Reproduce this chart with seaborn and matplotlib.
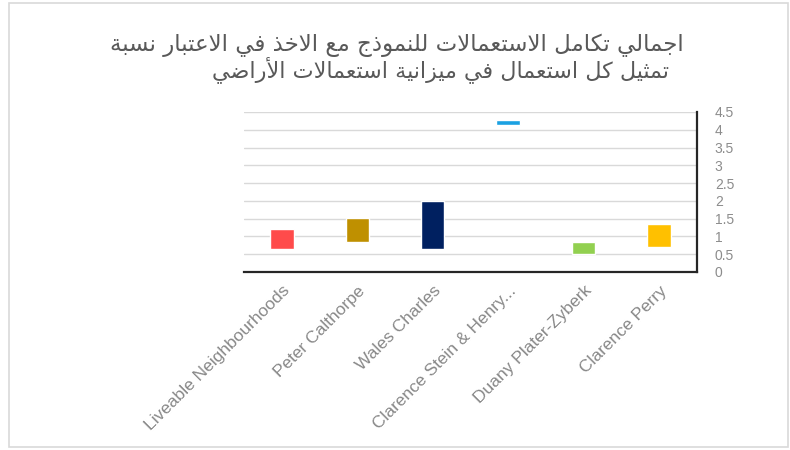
import matplotlib
matplotlib.use('Agg')
import matplotlib.pyplot as plt
import seaborn as sns
from matplotlib.patches import Rectangle

# chart data (floating bars: low / high)
categories = ['Liveable Neighbourhoods', 'Peter Calthorpe', 'Wales Charles',
              'Clarence Stein & Henry...', 'Duany Plater-Zyberk', 'Clarence Perry']
lows = [0.65, 0.85, 0.65, 4.13, 0.50, 0.70]
highs = [1.20, 1.53, 2.00, 4.27, 0.85, 1.35]
colors = ['#FF4B4B', '#BF9000', '#002060', '#1BA1E2', '#92D050', '#FFC000']
yticks = [0, 0.5, 1, 1.5, 2, 2.5, 3, 3.5, 4, 4.5]
title_lines = ['اجمالي تكامل الاستعمالات للنموذج مع الاخذ في الاعتبار نسبة',
               'تمثيل كل استعمال في ميزانية استعمالات الأراضي']

# matplotlib has no arabic shaping, so map letters to presentation forms
# (isolated codepoint, number of forms)
FORMS = {'ا': (0xFE8D, 2), 'أ': (0xFE83, 2), 'ب': (0xFE8F, 4), 'ة': (0xFE93, 2),
         'ت': (0xFE95, 4), 'ث': (0xFE99, 4), 'ج': (0xFE9D, 4), 'خ': (0xFEA5, 4),
         'د': (0xFEA9, 2), 'ذ': (0xFEAB, 2), 'ر': (0xFEAD, 2), 'ز': (0xFEAF, 2),
         'س': (0xFEB1, 4), 'ض': (0xFEBD, 4), 'ع': (0xFEC9, 4), 'ف': (0xFED1, 4),
         'ك': (0xFED9, 4), 'ل': (0xFEDD, 4), 'م': (0xFEE1, 4), 'ن': (0xFEE5, 4),
         'و': (0xFEED, 2), 'ي': (0xFEF1, 4)}
LAM_ALEF = {'ا': 0xFEFB, 'أ': 0xFEF7}


def shape_arabic(text):
    out = []
    i = 0
    while i < len(text):
        ch = text[i]
        prev = text[i - 1] if i > 0 else ' '
        prev_joins = prev in FORMS and FORMS[prev][1] == 4
        if ch not in FORMS:
            out.append(ch)
            i += 1
            continue
        nxt = text[i + 1] if i + 1 < len(text) else ' '
        if ch == 'ل' and nxt in LAM_ALEF:
            out.append(chr(LAM_ALEF[nxt] + (1 if prev_joins else 0)))
            i += 2
            continue
        base, n = FORMS[ch]
        next_joins = n == 4 and nxt in FORMS
        if prev_joins and next_joins:
            off = 3
        elif next_joins:
            off = 2
        elif prev_joins:
            off = 1
        else:
            off = 0
        out.append(chr(base + off))
        i += 1
    return ''.join(out)[::-1]


sns.set_style('white')
plt.rcParams['font.family'] = ['DejaVu Sans']

fig = plt.figure(figsize=(7.9, 4.5), dpi=100)
ax = fig.add_axes([0.309, 0.3956, 0.573, 0.3556])

heights = [h - l for h, l in zip(highs, lows)]
sns.barplot(x=categories, y=heights, hue=categories, palette=colors,
            saturation=1, width=0.31, legend=False, ax=ax, zorder=3)
for patch, low in zip(ax.patches, lows):
    patch.set_y(low)

ax.set_ylim(0, 4.5)
ax.set_xlim(-0.5, len(categories) - 0.5)
ax.set_yticks(yticks)
ax.set_yticklabels([f'{t:g}' for t in yticks], fontsize=10, color='#8C8C8C',
                   family='Liberation Sans')
ax.yaxis.tick_right()
for lbl in ax.get_yticklabels():
    lbl.set_horizontalalignment('left')
ax.tick_params(axis='y', length=0, pad=13)
ax.tick_params(axis='x', length=0, pad=8)
ax.set_xticks(range(len(categories)))
ax.set_xticklabels(categories, rotation=45, ha='right', rotation_mode='anchor',
                   fontsize=12.5, color='#888888', family='Liberation Sans')
ax.grid(axis='y', color='#D9D9D9', linewidth=1, zorder=0)
ax.set_axisbelow(True)
ax.set_xlabel('')
ax.set_ylabel('')

for side in ['top', 'left']:
    ax.spines[side].set_visible(False)
for side in ['right', 'bottom']:
    ax.spines[side].set_color('#262626')
    ax.spines[side].set_linewidth(1.6)

fig.text(397 / 790, 0.90, shape_arabic(title_lines[0]), ha='center', va='center',
         fontsize=16.5, color='#595959')
fig.text(440 / 790, 0.845, shape_arabic(title_lines[1]), ha='center', va='center',
         fontsize=16, color='#595959')

fig.patches.append(Rectangle((9 / 790, 3 / 450), 779 / 790, 444 / 450,
                             transform=fig.transFigure, fill=False,
                             edgecolor='#D9D9D9', linewidth=1.2))

fig.savefig('out.png', dpi=100, facecolor='white')
